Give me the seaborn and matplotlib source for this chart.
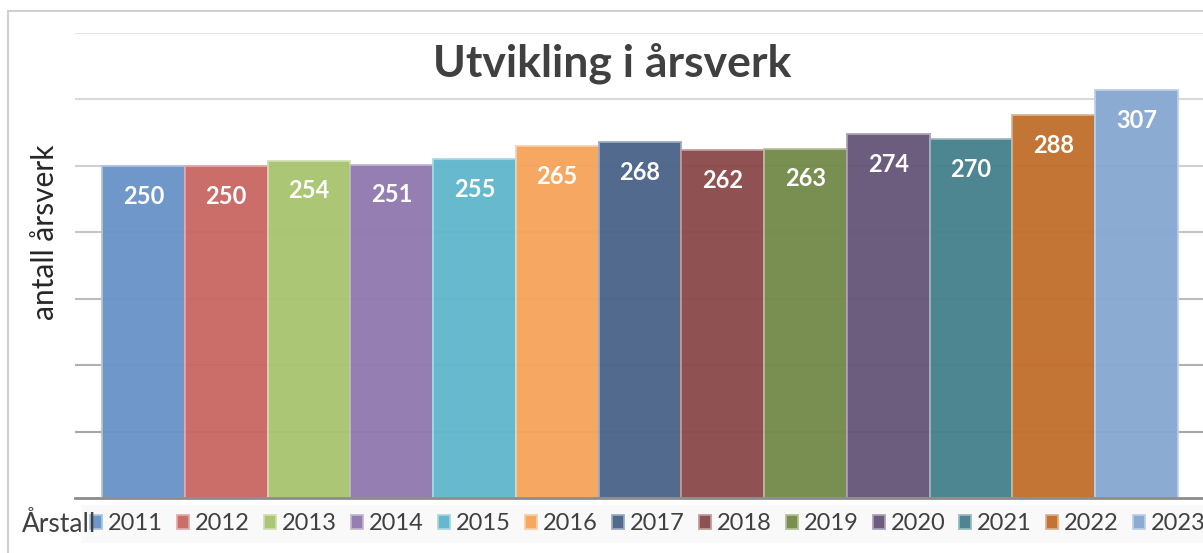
import matplotlib
matplotlib.use("Agg")
import matplotlib.pyplot as plt
import seaborn as sns
import pandas as pd
from matplotlib.patches import Rectangle
from matplotlib.colors import to_rgb

# data
aar = ["2011", "2012", "2013", "2014", "2015", "2016", "2017",
       "2018", "2019", "2020", "2021", "2022", "2023"]
aarsverk = [250, 250, 254, 251, 255, 265, 268, 262, 263, 274, 270, 288, 307]
farger = ["#6993c7", "#c96763", "#a8c46f", "#9179ae", "#61b6cb", "#f6a45b",
          "#4a6488", "#8a4a4a", "#748a4a", "#665679", "#46808c", "#c16f2d",
          "#87a8d2"]
grid_verdier = [50, 100, 150, 200, 250, 300, 350]
grid_farger = ["#a6a6a6", "#b0b0b0", "#bcbcbc", "#c6c6c6", "#d0d0d0", "#d9d9d9", "#e2e2e2"]

df = pd.DataFrame({"aar": aar, "aarsverk": aarsverk})

sns.set_theme(style="white")
plt.rcParams["font.family"] = ["Lato", "DejaVu Sans"]

W, H = 1203, 553
fig = plt.figure(figsize=(W / 100, H / 100), dpi=100)
ax = fig.add_axes([75 / W, 1 - 498 / H, (W - 75) / W, (498 - 33) / H])

# gridlines, darker towards the bottom like the original
for v, c in zip(grid_verdier, grid_farger):
    ax.axhline(v, color=c, lw=1.5, zorder=0)

sns.barplot(data=df, x="aar", y="aarsverk", hue="aar", palette=farger,
            saturation=1, width=1.0, legend=False, ax=ax, alpha=0.96, zorder=2)

for bar, c in zip(ax.patches, farger):
    r, g, b = to_rgb(c)
    bar.set_edgecolor((r + (1 - r) * 0.45, g + (1 - g) * 0.45, b + (1 - b) * 0.45))
    bar.set_linewidth(1.3)

for cont in ax.containers:
    ax.bar_label(cont, padding=-30, color="white", fontsize=17,
                 fontweight="bold")

ax.set_ylim(0, 350)
ax.set_xlim(-0.5 - 27 / 82.77, 12.5 + 25 / 82.77)
ax.set_xticks([])
ax.set_yticks([])
ax.set_xlabel("")
ax.set_ylabel("")
for s in ["top", "right", "left"]:
    ax.spines[s].set_visible(False)
ax.spines["bottom"].set_color("#8c8c8c")
ax.spines["bottom"].set_linewidth(2)
ax.spines["bottom"].set_zorder(3)

fig.text(612 / W, 1 - 63 / H, "Utvikling i årsverk", ha="center", va="center",
         fontsize=32, fontweight="bold", color="#404040")
fig.text(45 / W, 1 - 232 / H, "antall årsverk", rotation=90, ha="center",
         va="center", fontsize=21.5, color="#262626")

leg = fig.legend(ax.patches, aar, ncol=13, loc="center left",
                 bbox_to_anchor=(70 / W, 1 - 524 / H), fontsize=17,
                 frameon=True, facecolor="#f8f8f8", edgecolor="none",
                 fancybox=False, handlelength=0.51, handleheight=0.51,
                 handletextpad=0.25, columnspacing=0.6, borderpad=0.35,
                 labelcolor="#404040")
fig.text(22 / W, 1 - 524 / H, "Årstall", ha="left", va="center",
         fontsize=19, color="#404040", zorder=6)

# light outer frame of the chart area
fig.add_artist(Rectangle((8 / W, -0.05), 1.2, 1 - 11 / H + 0.05,
                         transform=fig.transFigure, fill=False,
                         edgecolor="#d0d0d0", lw=1.5, zorder=0))

fig.savefig("out.png", dpi=100)
